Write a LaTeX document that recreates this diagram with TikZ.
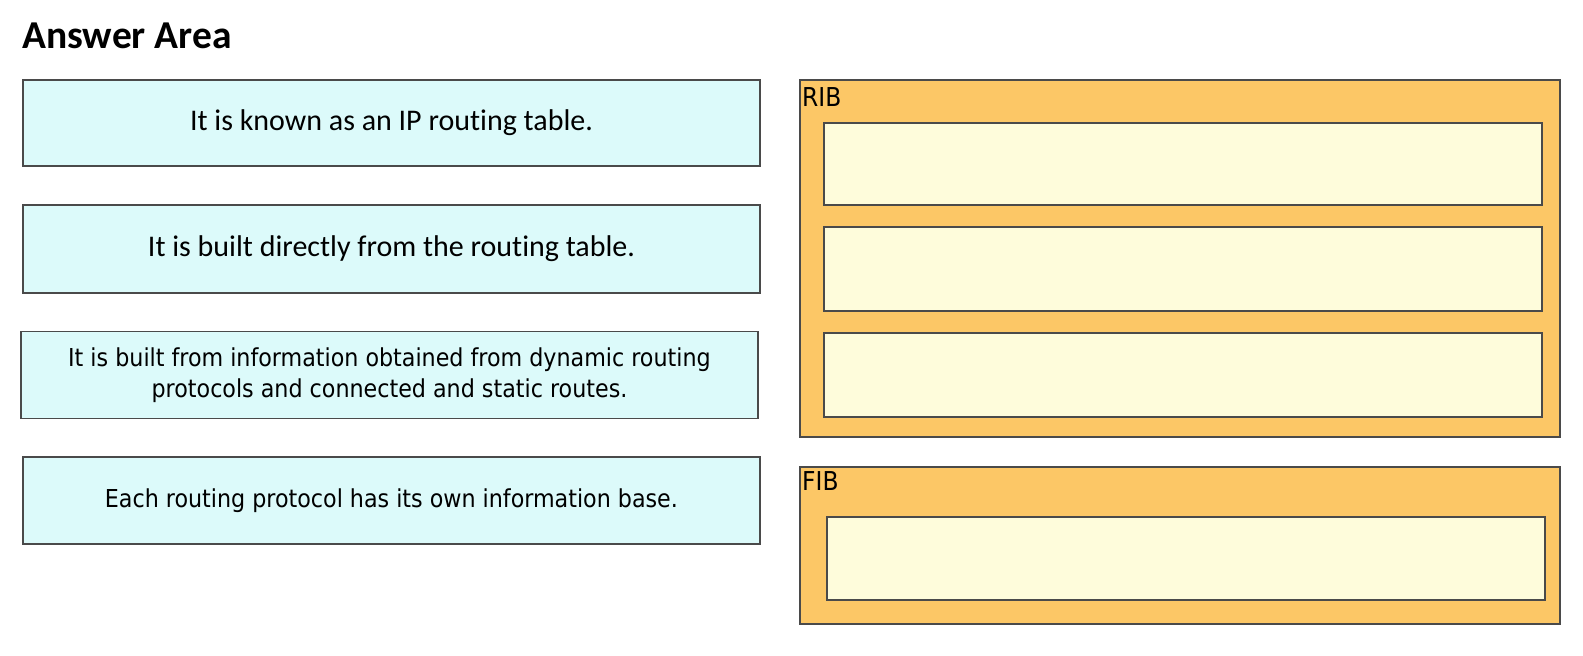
\documentclass[tikz,border=0pt]{standalone}
\usepackage{fontspec}
\setmainfont{Carlito}[Ligatures=NoCommon]
\newfontfamily\boxfont{DejaVu Sans Condensed}
\definecolor{stmtfill}{HTML}{DCFAFA}
\definecolor{areafill}{HTML}{FCC766}
\definecolor{slotfill}{HTML}{FEFCDB}
\definecolor{edge}{HTML}{4A4A4A}
\begin{document}
\begin{tikzpicture}[x=1pt, y=-1pt,
        stmt/.style={rectangle, draw=edge, line width=1.3pt, fill=stmtfill, minimum width=737pt, inner sep=0pt, align=center},
        area/.style={rectangle, draw=edge, line width=1.3pt, fill=areafill, minimum width=760pt, inner sep=0pt},
        slot/.style={rectangle, draw=edge, line width=1.3pt, fill=slotfill, minimum width=718pt, minimum height=83pt, inner sep=0pt},
        tag/.style={font=\boxfont\fontsize{26}{30}\selectfont, inner sep=0pt, anchor=base west}
    ]
        \useasboundingbox (0,0) rectangle (1583,656);

        % Title
        \node[anchor=base west, inner sep=0pt, font=\bfseries\fontsize{39.5}{46}\selectfont] (title) at (22,48) {Answer Area};

        % Statements (left)
        \node[stmt, minimum height=86pt, font=\fontsize{30}{34}\selectfont] (s1) at (391.5,123) {It is known as an IP routing table.};
        \node[stmt, minimum height=88pt, font=\fontsize{30}{34}\selectfont] (s2) at (391.5,249) {It is built directly from the routing table.};
        \node[stmt, minimum height=87pt, font=\boxfont\fontsize{24.7}{31}\selectfont] (s3) at (389.5,375) {It is built from information obtained from dynamic routing\\protocols and connected and static routes.};
        \node[stmt, minimum height=87pt, font=\boxfont\fontsize{24.7}{30}\selectfont] (s4) at (391.5,500.5) {Each routing protocol has its own information base.};

        % RIB area
        \node[area, minimum height=357pt] (rib) at (1180,258.5) {};
        \node[tag] (ribtag) at (802,106) {RIB};
        \node[slot, minimum height=82pt] (rib1) at (1183,164) {};
        \node[slot, minimum height=84pt] (rib2) at (1183,269) {};
        \node[slot, minimum height=84pt] (rib3) at (1183,375) {};

        % FIB area
        \node[area, minimum height=157pt] (fib) at (1180,545.5) {};
        \node[tag] (fibtag) at (802,490) {FIB};
        \node[slot] (fib1) at (1186,558.5) {};
    \end{tikzpicture}
\end{document}
